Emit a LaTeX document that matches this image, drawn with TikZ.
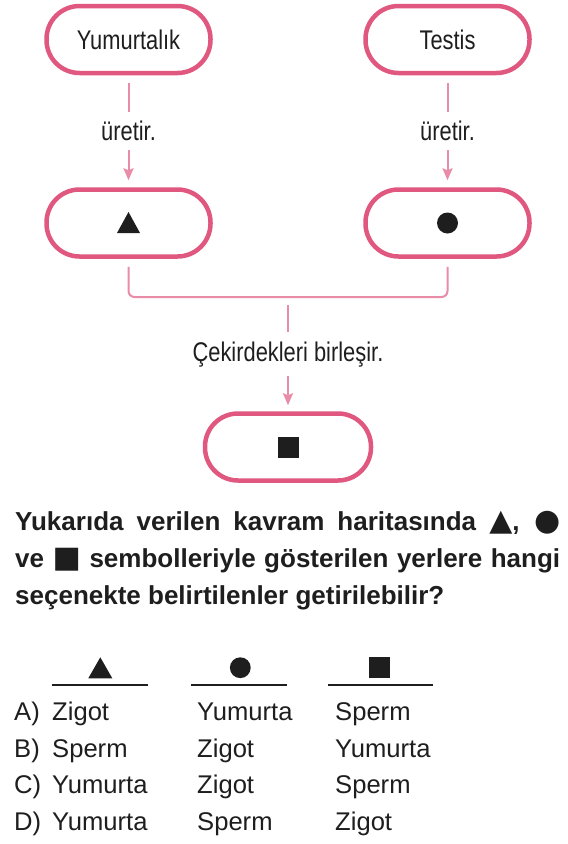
\documentclass[tikz,border=0pt]{standalone}
\usepackage{fontspec}
\setmainfont{Liberation Sans}
\newfontfamily\narrowfont[FakeStretch=0.81]{Liberation Sans}
\newfontfamily\symfont{DejaVu Sans}
\usetikzlibrary{arrows.meta}
\definecolor{boxpink}{RGB}{224,88,128}
\definecolor{linepink}{RGB}{233,140,168}
\definecolor{inkblack}{RGB}{30,30,30}
\begin{document}
\begin{tikzpicture}[x=1pt,y=-1pt,
  pill/.style={draw=boxpink, line width=4.5pt, rounded corners=33pt,
    minimum width=164pt, minimum height=67pt, inner sep=0pt,
    font=\narrowfont\fontsize{27}{30}\selectfont, text=inkblack},
  conn/.style={draw=linepink, line width=2pt},
  arr/.style={conn, -{Stealth[length=12pt,width=10pt,inset=2pt]}},
  lbl/.style={fill=white, inner xsep=4pt, inner ysep=9pt,
    font=\narrowfont\fontsize{27}{30}\selectfont, text=inkblack},
  opt/.style={anchor=base west, inner sep=0pt,
    font=\fontsize{25.6}{30}\selectfont, text=inkblack},
  rule/.style={draw=inkblack, line width=2pt},
]
\useasboundingbox (0,0) rectangle (568,844);
\fill[white] (0,0) rectangle (568,844);

% boxes
\node[pill] (yum) at (128.5,39.5) {Yumurtalık};
\node[pill] (tes) at (447.5,39.5) {Testis};
\node[pill] (tri) at (128.5,223) {};
\node[pill] (cir) at (447.5,223) {};
\node[pill, minimum width=166pt] (sq) at (288,447) {};

% symbols in boxes
\fill[inkblack] (tri.center) ++(0,-11) -- ++(11.5,21) -- ++(-23,0) -- cycle;
\fill[inkblack] (cir.center) circle (10.5);
\fill[inkblack] (sq.center) ++(-10.5,-10.5) rectangle ++(21,21);

% connectors
\draw[arr, shorten <=8pt, shorten >=7pt] (yum) -- node[lbl] {üretir.} (tri);
\draw[arr, shorten <=8pt, shorten >=7pt] (tes) -- node[lbl] {üretir.} (cir);
\coordinate (j) at (288,297);
\draw[conn, rounded corners=6pt, shorten <=8pt, shorten >=8pt] (tri.south) |- (j) -| (cir.south);
\draw[arr, shorten <=8pt, shorten >=6pt] (j) -- node[lbl] {Çekirdekleri birleşir.} (sq.north);

% question
\node[anchor=north west, inner sep=0pt, text width=545pt, align=justify,
  font=\bfseries\fontsize{26}{37}\selectfont, text=inkblack] (q) at (15,504.1)
  {\strut Yukarıda verilen kavram haritasında {\symfont\fontsize{30}{37}\selectfont ▲}, {\symfont\fontsize{30}{37}\selectfont ●}\linebreak
   ve {\symfont\fontsize{30}{37}\selectfont ■} sembolleriyle gösterilen yerlere hangi\linebreak
   seçenekte belirtilenler getirilebilir?};

% option header
\draw[rule] (51.7,685) -- (148.3,685);
\draw[rule] (190.7,685) -- (287.3,685);
\draw[rule] (328.3,685) -- (433.3,685);
\fill[inkblack] (100.3,657.3) -- (112.3,678.3) -- (88.3,678.3) -- cycle;
\fill[inkblack] (240.3,667.7) circle (10.4);
\fill[inkblack] (369.3,657.3) rectangle (390,678);

% options
\node[opt] (la) at (14,720) {A)};
\node[opt] (a1) at (52,720) {Zigot};
\node[opt] (a2) at (197,720) {Yumurta};
\node[opt] (a3) at (335,720) {Sperm};
\node[opt] (lb) at (14,757) {B)};
\node[opt] (b1) at (52,757) {Sperm};
\node[opt] (b2) at (197,757) {Zigot};
\node[opt] (b3) at (335,757) {Yumurta};
\node[opt] (lc) at (14,793) {C)};
\node[opt] (c1) at (52,793) {Yumurta};
\node[opt] (c2) at (197,793) {Zigot};
\node[opt] (c3) at (335,793) {Sperm};
\node[opt] (ld) at (14,830) {D)};
\node[opt] (d1) at (52,830) {Yumurta};
\node[opt] (d2) at (197,830) {Sperm};
\node[opt] (d3) at (335,830) {Zigot};
\end{tikzpicture}
\end{document}
